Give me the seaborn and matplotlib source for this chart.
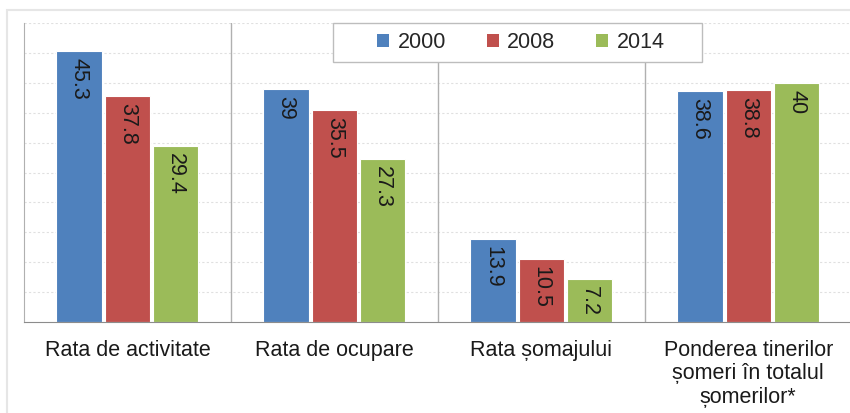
import pandas as pd
import matplotlib.pyplot as plt
import seaborn as sns
from matplotlib.patches import Rectangle

# Data
categories = [
    "Rata de activitate",
    "Rata de ocupare",
    "Rata șomajului",
    "Ponderea tinerilor\nșomeri în totalul\nșomerilor*",
]
years = ["2000", "2008", "2014"]
values_2000 = [45.3, 39, 13.9, 38.6]
values_2008 = [37.8, 35.5, 10.5, 38.8]
values_2014 = [29.4, 27.3, 7.2, 40]
colors = ["#4F81BD", "#C0504D", "#9BBB59"]

# Long format table for seaborn
df = pd.DataFrame({
    "category": categories * 3,
    "year": [y for y in years for _ in categories],
    "value": values_2000 + values_2008 + values_2014,
})

sns.set_style("white")
plt.rcParams["font.family"] = ["Liberation Sans", "DejaVu Sans"]

fig = plt.figure(figsize=(8.5, 4.13), dpi=100)
ax = fig.add_axes([24 / 850, 1 - 322 / 413, 1 - 24 / 850 + 0.002, (322 - 23) / 413])

sns.barplot(data=df, x="category", y="value", hue="year", order=categories,
            hue_order=years, palette=dict(zip(years, colors)), saturation=1,
            width=0.7, gap=0.06, edgecolor="white", linewidth=0.8, ax=ax)

ax.set_xlim(-0.5, 3.5)
ax.set_ylim(0, 50)

# faint dotted gridlines every 5 units
for yv in range(5, 51, 5):
    ax.axhline(yv, color="#e0e0e0", lw=0.8, ls=(0, (2, 2)), zorder=0)

# vertical separators between groups
for xv in [0.5, 1.5, 2.5]:
    ax.axvline(xv, color="#b0b0b0", lw=1.0, zorder=0.5)

# value labels, rotated, inside the top of each bar
for cont in ax.containers:
    for bar in cont:
        h = bar.get_height()
        ax.annotate(f"{h:g}", (bar.get_x() + bar.get_width() / 2, h),
                    xytext=(0, -5), textcoords="offset points",
                    rotation=270, ha="center", va="top", fontsize=15.5,
                    color="#1a1a1a")

ax.set_xlabel("")
ax.set_ylabel("")
ax.set_yticks([])
ax.set_xticks(range(4))
ax.set_xticklabels(categories, fontsize=15.5, linespacing=1.15, color="#1a1a1a")
ax.tick_params(axis="x", which="major", length=0, pad=13)
ax.set_xticks([-0.5, 0.5, 1.5, 2.5], minor=True)
ax.tick_params(axis="x", which="minor", length=6, color="#888888", width=1)

for side in ["top", "right"]:
    ax.spines[side].set_visible(False)
ax.spines["left"].set_color("#b0b0b0")
ax.spines["bottom"].set_color("#8c8c8c")

# legend at the top, with its own box
ax.legend_.remove()
handles, labels = ax.get_legend_handles_labels()
leg = fig.legend(handles, labels, loc="center",
                 bbox_to_anchor=(521 / 850, 1 - 43 / 413), ncol=3,
                 fontsize=15.5, frameon=False,
                 handlelength=0.55, handleheight=0.55, handletextpad=0.4,
                 columnspacing=1.9, borderpad=0, borderaxespad=0)
for patch in leg.get_patches():
    patch.set_edgecolor("none")
leg.set_zorder(11)
fig.patches.append(Rectangle((333 / 850, 1 - 62 / 413), 369 / 850, 39 / 413,
                             transform=fig.transFigure, facecolor="white",
                             edgecolor="#bdbdbd", lw=1.0, zorder=10))

# outer chart border, cut off at right and bottom
fig.patches.append(Rectangle((7 / 850, -0.05), 1.1, 1 - 10 / 413 + 0.05,
                             transform=fig.transFigure, fill=False,
                             edgecolor="#e6e6e6", lw=1.5, zorder=0))

fig.savefig("out.png", dpi=100)
